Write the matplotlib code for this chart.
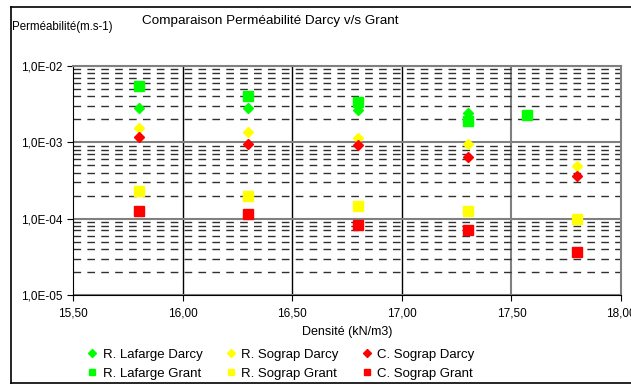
import numpy as np
import matplotlib
matplotlib.use("Agg")
import matplotlib.pyplot as plt
from matplotlib.ticker import LogLocator, FixedLocator, NullFormatter
from matplotlib.lines import Line2D

plt.rcParams['font.family'] = ['Liberation Sans', 'DejaVu Sans']

# data
densite = [15.8, 16.3, 16.8, 17.3, 17.8]
densite_lafarge = [15.8, 16.3, 16.8, 17.3, 17.57]
lafarge_darcy = [2.8e-3, 2.8e-3, 2.65e-3, 2.4e-3, 2.3e-3]
lafarge_grant = [5.4e-3, 4.1e-3, 3.4e-3, 1.9e-3, 2.25e-3]
sograp_darcy = [1.53e-3, 1.36e-3, 1.14e-3, 9.6e-4, 4.85e-4]
sograp_grant = [2.3e-4, 1.98e-4, 1.45e-4, 1.26e-4, 9.8e-5]
csograp_darcy = [1.16e-3, 9.6e-4, 9.1e-4, 6.5e-4, 3.6e-4]
csograp_grant = [1.26e-4, 1.14e-4, 8.2e-5, 7.1e-5, 3.65e-5]

x_ticks = [15.5, 16.0, 16.5, 17.0, 17.5, 18.0]
y_ticks = [1e-5, 1e-4, 1e-3, 1e-2]

fig = plt.figure(figsize=(6.31, 3.85), dpi=100)
ax = fig.add_axes([0.1157, 0.2338, 0.8685, 0.5948])

ax.set_yscale('log')
ax.set_xlim(15.5, 18.0)
ax.set_ylim(1e-5, 1e-2)

# grid
ax.yaxis.set_minor_locator(LogLocator(base=10, subs=np.arange(2, 10)))
ax.yaxis.set_minor_formatter(NullFormatter())
ax.grid(True, which='minor', axis='y', color='#303030', linestyle=(0, (5.5, 4.5)), linewidth=1.0)
ax.grid(True, which='major', axis='y', color='#808080', linestyle='-', linewidth=1.5)
for xv in x_ticks[1:-1]:
    ax.axvline(xv, color='#808080' if xv == 17.5 else 'black', linewidth=1.0 if xv != 17.5 else 1.5, zorder=1)
ax.tick_params(which='minor', length=0)
ax.tick_params(which='major', direction='out', length=4, labelsize=8.5, color='black')
ax.tick_params(axis='x', pad=5)

ax.set_xticks(x_ticks)
ax.set_xticklabels([f"{v:.2f}".replace('.', ',') for v in x_ticks])
ax.yaxis.set_major_locator(FixedLocator(y_ticks))
ax.set_yticklabels(["1,0E-05", "1,0E-04", "1,0E-03", "1,0E-02"])

for side in ['top', 'right']:
    ax.spines[side].set_color('#808080')
    ax.spines[side].set_linewidth(1.5)
ax.spines['left'].set_color('black')
ax.spines['bottom'].set_color('black')

dia = dict(marker='D', markersize=4.8, linestyle='none', zorder=3)
sq = dict(marker='s', markersize=6.5, linestyle='none', zorder=3)
ax.plot(densite_lafarge, lafarge_grant, color='#00ff00', **sq)
ax.plot(densite, sograp_grant, color='#ffff00', **sq)
ax.plot(densite, csograp_grant, color='#ff0000', **sq)
ax.plot(densite_lafarge, lafarge_darcy, color='#00ff00', **dia)
ax.plot(densite, sograp_darcy, color='#ffff00', **dia)
ax.plot(densite, csograp_darcy, color='#ff0000', **dia)

ax.set_xlabel("Densité (kN/m3)", fontsize=9, labelpad=5)

fig.text(0.428, 0.945, "Comparaison Perméabilité Darcy v/s Grant", fontsize=9.7, ha='center', va='center')
fig.text(0.019, 0.93, "Perméabilité(m.s-1)", fontsize=8.3, ha='left', va='center')

handles = [
    Line2D([], [], color='#00ff00', marker='D', markersize=4, linestyle='none'),
    Line2D([], [], color='#00ff00', marker='s', markersize=4.5, linestyle='none'),
    Line2D([], [], color='#ffff00', marker='D', markersize=4, linestyle='none'),
    Line2D([], [], color='#ffff00', marker='s', markersize=4.5, linestyle='none'),
    Line2D([], [], color='#ff0000', marker='D', markersize=4, linestyle='none'),
    Line2D([], [], color='#ff0000', marker='s', markersize=4.5, linestyle='none'),
]
labels = ["R. Lafarge Darcy", "R. Lafarge Grant", "R. Sograp Darcy",
          "R. Sograp Grant", "C. Sograp Darcy", "C. Sograp Grant"]
fig.legend(handles, labels, ncol=3, loc='upper left', bbox_to_anchor=(0.129, 0.112),
           frameon=False, fontsize=9.5, handlelength=0.6, handletextpad=0.5,
           columnspacing=1.85, labelspacing=0.5, borderpad=0)

# outer chart border (left, top, bottom)
fig.add_artist(Line2D([0.0175, 0.0175], [0.005, 0.982], color='black', linewidth=1.2))
fig.add_artist(Line2D([0.0175, 1.0], [0.982, 0.982], color='black', linewidth=1.2))
fig.add_artist(Line2D([0.0175, 1.0], [0.005, 0.005], color='black', linewidth=1.2))

fig.savefig("out.png", dpi=100)
